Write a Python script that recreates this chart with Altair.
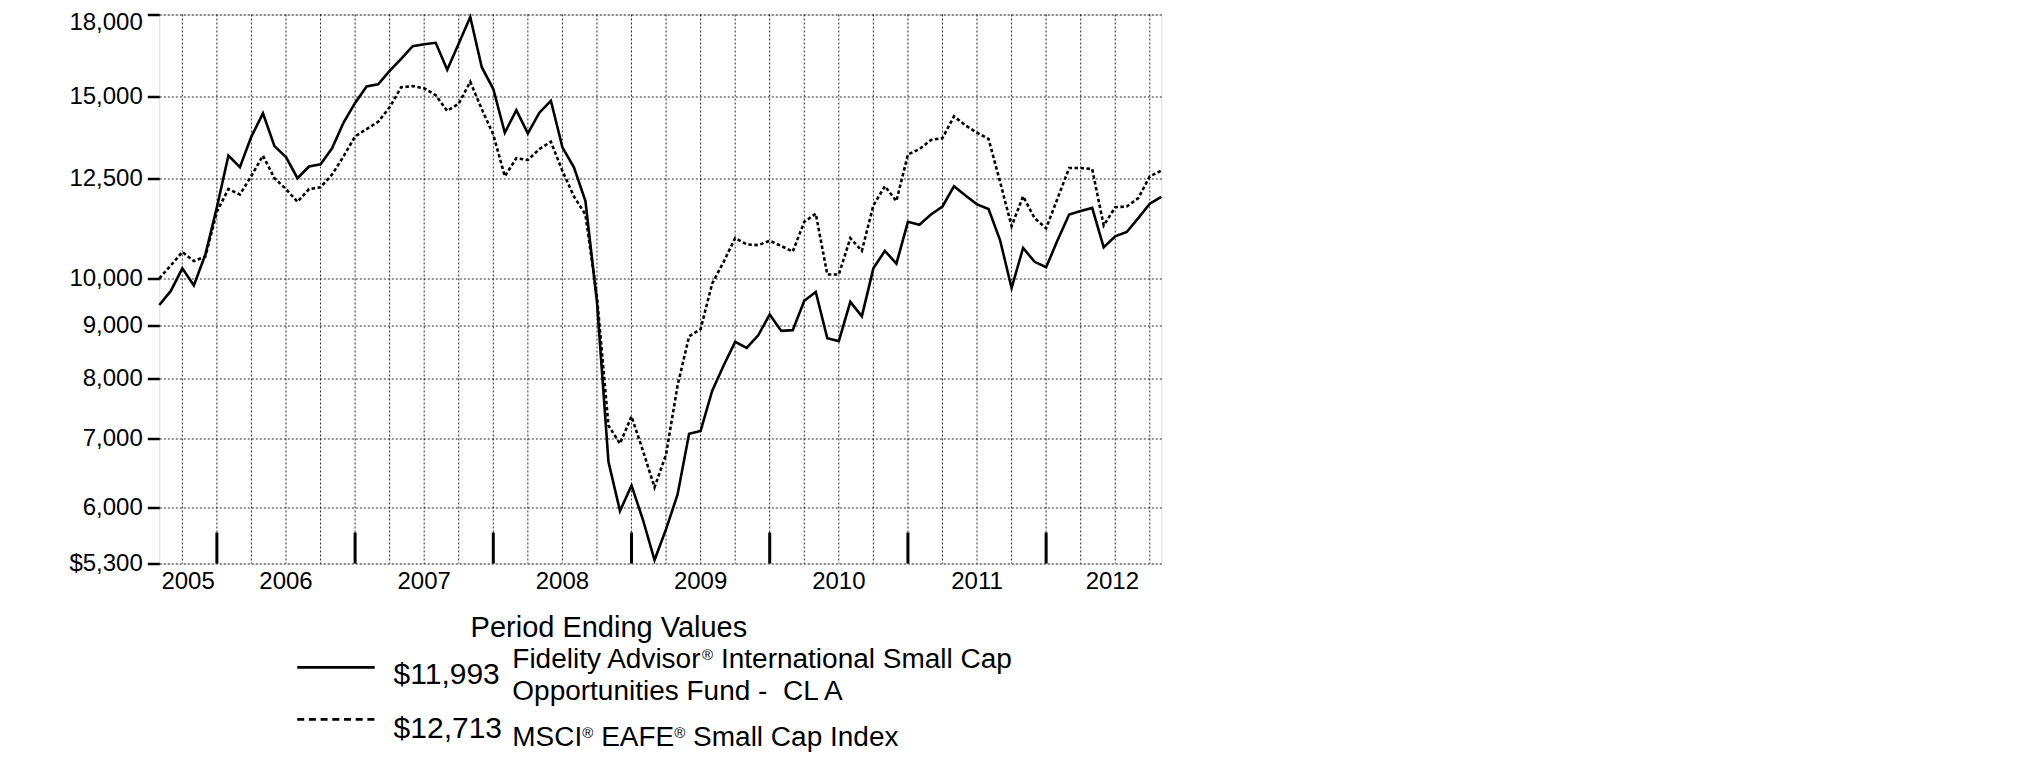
import altair as alt
import pandas as pd

# ---- data ----
# month index: 0 = start (Aug 2005), k = end of k-th month, 87 = Oct 31 2012
fund_values = [
    9425, 9725, 10226, 9844, 10546, 11718, 13145, 12810, 13721, 14441,
    13426, 13104, 12500, 12830, 12893, 13360, 14152, 14784, 15332, 15408,
    15876, 16306, 16776, 16843, 16900, 15915, 16871, 17898, 16006, 15247,
    13833, 14546, 13812, 14465, 14855, 13392, 12810, 11880, 9491, 6646,
    5958, 6306, 5839, 5341, 5722, 6180, 7074, 7121, 7784, 8238,
    8683, 8565, 8811, 9227, 8897, 8912, 9515, 9702, 8753, 8697,
    9491, 9189, 10226, 10633, 10334, 11344, 11270, 11529, 11737, 12281,
    12026, 11793, 11670, 10893, 9789, 10701, 10377, 10251, 10893, 11529,
    11623, 11700, 10719, 10982, 11089, 11436, 11812, 11993,
]
index_values = [
    10000, 10293, 10607, 10393, 10500, 11600, 12202, 12054, 12570, 13145,
    12500, 12202, 11860, 12202, 12251, 12604, 13124, 13721, 13946, 14174,
    14641, 15308, 15345, 15271, 15037, 14522, 14760, 15495, 14582, 13777,
    12553, 13070, 13019, 13338, 13557, 12706, 12006, 11529, 9600, 7207,
    6921, 7355, 6810, 6280, 6756, 7879, 8790, 8933, 9884, 10377,
    10939, 10789, 10770, 10876, 10750, 10615, 11344, 11549, 10087, 10087,
    10939, 10633, 11765, 12281, 11880, 13178, 13338, 13612, 13667, 14348,
    14060, 13833, 13646, 12402, 11234, 12006, 11436, 11180, 11957, 12789,
    12789, 12757, 11252, 11718, 11737, 11957, 12553, 12713,
]
month_idx = list(range(len(fund_values)))

y_ticks = [5300, 6000, 7000, 8000, 9000, 10000, 12500, 15000, 18000]
quarter_idx = list(range(2, 87, 3))
year_boundaries = [5, 17, 29, 41, 53, 65, 77]
year_labels = ["2005", "2006", "2007", "2008", "2009", "2010", "2011", "2012"]
year_label_pos = [2.5, 11, 23, 35, 47, 59, 71, 82.75]

legend_title = "Period Ending Values"
legend_values = ["$11,993", "$12,713"]

FONT = "Liberation Sans"
W, H = 1002, 549

fund_df = pd.DataFrame({"idx": month_idx, "value": fund_values})
index_df = pd.DataFrame({"idx": month_idx, "value": index_values})

x_enc = alt.X("idx:Q", scale=alt.Scale(domain=[0, 87], nice=False, zero=False), axis=None)
y_enc = alt.Y(
    "value:Q",
    scale=alt.Scale(type="log", domain=[5300, 18000], nice=False),
    axis=alt.Axis(
        values=y_ticks,
        labelExpr="datum.value == 5300 ? '$5,300' : format(datum.value, ',')",
        labelOffset={"condition": {"test": "datum.value == 18000", "value": 8}, "value": 0},
        grid=True, gridDash=[2, 2], gridColor="black", gridWidth=1, gridOpacity=0.85,
        tickSize=12, tickWidth=2.5, tickColor="black", domain=False,
        labelFontSize=24, labelFont=FONT, labelColor="black", labelPadding=5,
        title=None,
    ),
)

qgrid = alt.Chart(pd.DataFrame({"idx": quarter_idx})).mark_rule(
    color="black", strokeWidth=1, strokeDash=[2, 2], opacity=0.85
).encode(x=x_enc)

fund_line = alt.Chart(fund_df).mark_line(color="black", strokeWidth=2.6).encode(x=x_enc, y=y_enc)
index_line = alt.Chart(index_df).mark_line(
    color="black", strokeWidth=2.6, strokeDash=[3.5, 2.5]
).encode(x=x_enc, y=y_enc)

year_ticks = alt.Chart(pd.DataFrame({"idx": year_boundaries})).mark_rule(
    color="black", strokeWidth=3
).encode(x=x_enc, y=alt.value(H - 31), y2=alt.value(H))

year_text = alt.Chart(pd.DataFrame({"idx": year_label_pos, "label": year_labels})).mark_text(
    align="center", baseline="alphabetic", fontSize=24, font=FONT, color="black"
).encode(x=x_enc, y=alt.value(574.5), text="label:N")

# ---- custom legend ----
def txt(s, x, y, size, align="left"):
    return alt.Chart(pd.DataFrame({"t": [s]})).mark_text(
        align=align, baseline="alphabetic", fontSize=size, font=FONT, color="black"
    ).encode(x=alt.value(x), y=alt.value(y), text="t:N")

NX = 353.0
NS = 28
RS = 15
sp = 0.278 * NS
L1, L2, L3 = 654.0, 686.0, 732.0
legend = [
    txt(legend_title, 449.6, 622.5, 29, align="center"),
    alt.Chart(pd.DataFrame({"a": [0]})).mark_rule(color="black", strokeWidth=2.75).encode(
        x=alt.value(137.9), x2=alt.value(215.4), y=alt.value(653.0)),
    alt.Chart(pd.DataFrame({"a": [0]})).mark_rule(color="black", strokeWidth=2.75, strokeDash=[7, 4.7]).encode(
        x=alt.value(137.9), x2=alt.value(215.4), y=alt.value(705.0)),
    txt(legend_values[0], 234.3, 669.5, 30),
    txt(legend_values[1], 234.3, 723.5, 30),
    # line 1
    txt("Fidelity Advisor", NX, L1, NS),
    txt("®", NX + 6.779 * NS, L1 - 8, RS),
    txt("International Small Cap", NX + 6.779 * NS + 0.737 * RS + sp, L1, NS),
    # line 2
    txt("Opportunities Fund -\u00a0 CL A", NX, L2, NS),
    # line 3
    txt("MSCI", NX, L3, NS),
    txt("®", NX + 2.5 * NS, L3 - 8, RS),
    txt("EAFE", NX + 2.5 * NS + 0.737 * RS + sp, L3, NS),
    txt("®", NX + 2.5 * NS + 0.737 * RS + sp + 2.612 * NS, L3 - 8, RS),
    txt("Small Cap Index", NX + 2.5 * NS + 2 * 0.737 * RS + 2 * sp + 2.612 * NS, L3, NS),
]

chart = alt.layer(qgrid, fund_line, index_line, year_ticks, year_text, *legend).properties(
    width=W, height=H,
    autosize=alt.AutoSizeParams(type="none"),
    padding={"left": 151.3, "top": 6.5, "right": 20, "bottom": 205},
).configure_view(stroke="black", strokeWidth=1.5).configure(background="white")

chart.save("out.html", embed_options={"renderer": "svg", "actions": False})
